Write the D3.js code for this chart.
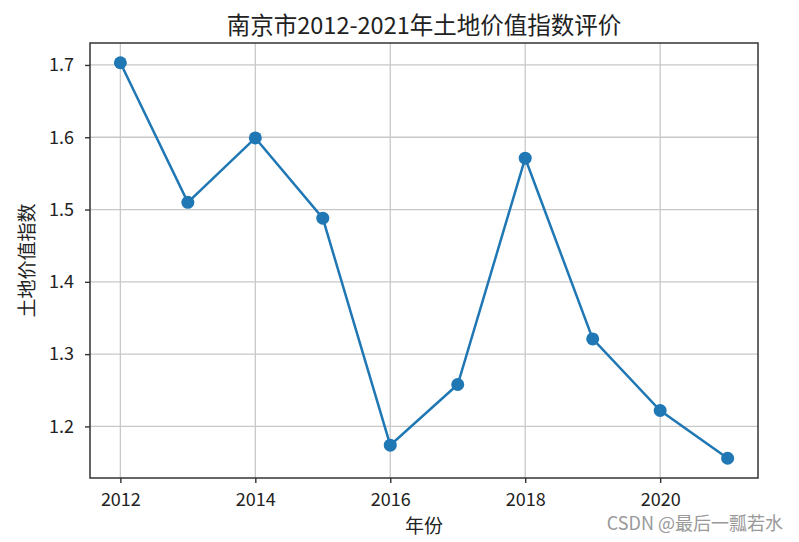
<!DOCTYPE html>
<html>
<head>
<meta charset="utf-8">
<script src="https://cdn.jsdelivr.net/npm/d3@7"></script>
<style>
  body { margin: 0; background: #fff; }
  text { font-family: "Noto Sans CJK SC", "DejaVu Sans", sans-serif; fill: #222; }
</style>
</head>
<body>
<div id="chart"></div>
<script>
// data
var years = [2012, 2013, 2014, 2015, 2016, 2017, 2018, 2019, 2020, 2021];
var values = [1.703, 1.510, 1.599, 1.488, 1.174, 1.258, 1.571, 1.321, 1.222, 1.156];
var xTicks = [2012, 2014, 2016, 2018, 2020];
var yTicks = [1.2, 1.3, 1.4, 1.5, 1.6, 1.7];

var outerWidth = 799, outerHeight = 542;
var margin = {top: 43, right: 41, bottom: 64, left: 90};
var width = outerWidth - margin.left - margin.right,
    height = outerHeight - margin.top - margin.bottom;

var svg = d3.select("#chart").append("svg")
    .attr("width", outerWidth)
    .attr("height", outerHeight);

var g = svg.append("g")
    .attr("transform", "translate(" + margin.left + "," + margin.top + ")");

// matplotlib style 5% margins
var xPad = (d3.max(years) - d3.min(years)) * 0.05;
var yPad = (d3.max(values) - d3.min(values)) * 0.05;

var xScale = d3.scaleLinear()
    .domain([d3.min(years) - xPad, d3.max(years) + xPad])
    .range([0, width]);
var yScale = d3.scaleLinear()
    .domain([d3.min(values) - yPad, d3.max(values) + yPad])
    .range([height, 0]);

// grid
g.selectAll("line.vgrid").data(xTicks).enter().append("line")
    .attr("class", "vgrid")
    .attr("x1", function (d) { return xScale(d); })
    .attr("x2", function (d) { return xScale(d); })
    .attr("y1", 0).attr("y2", height)
    .attr("stroke", "#c8c8c8").attr("stroke-width", 1.3);
g.selectAll("line.hgrid").data(yTicks).enter().append("line")
    .attr("class", "hgrid")
    .attr("y1", function (d) { return yScale(d); })
    .attr("y2", function (d) { return yScale(d); })
    .attr("x1", 0).attr("x2", width)
    .attr("stroke", "#c8c8c8").attr("stroke-width", 1.3);

// axes
var xAxis = d3.axisBottom(xScale).tickValues(xTicks).tickFormat(d3.format("d")).tickSize(5).tickPadding(10);
var yAxis = d3.axisLeft(yScale).tickValues(yTicks).tickFormat(d3.format(".1f")).tickSize(5).tickPadding(11);

var gx = g.append("g").attr("transform", "translate(0," + height + ")").call(xAxis);
var gy = g.append("g").call(yAxis);
[gx, gy].forEach(function (a) {
  a.select(".domain").remove();
  a.selectAll(".tick line").attr("stroke", "#333").attr("stroke-width", 1.4);
  a.selectAll(".tick text").style("font-size", "18px").attr("fill", "#222");
});

// frame
g.append("rect")
    .attr("x", 0).attr("y", 0)
    .attr("width", width).attr("height", height)
    .attr("fill", "none")
    .attr("stroke", "#333").attr("stroke-width", 1.5);

// line + markers
var line = d3.line()
    .x(function (d, i) { return xScale(years[i]); })
    .y(function (d) { return yScale(d); });

g.append("path")
    .datum(values)
    .attr("d", line)
    .attr("fill", "none")
    .attr("stroke", "#1f77b4")
    .attr("stroke-width", 2.5);

g.selectAll("circle").data(values).enter().append("circle")
    .attr("cx", function (d, i) { return xScale(years[i]); })
    .attr("cy", function (d) { return yScale(d); })
    .attr("r", 6.5)
    .attr("fill", "#1f77b4");

// titles
svg.append("text")
    .attr("x", margin.left + width / 2)
    .attr("y", 34)
    .attr("text-anchor", "middle")
    .style("font-size", "23.5px")
    .text("南京市2012-2021年土地价值指数评价");

svg.append("text")
    .attr("x", margin.left + width / 2)
    .attr("y", 533)
    .attr("text-anchor", "middle")
    .style("font-size", "19px")
    .text("年份");

svg.append("text")
    .attr("transform", "translate(34," + (margin.top + height / 2) + ") rotate(-90)")
    .attr("text-anchor", "middle")
    .style("font-size", "19px")
    .text("土地价值指数");

svg.append("text")
    .attr("x", 783)
    .attr("y", 530)
    .attr("text-anchor", "end")
    .style("font-size", "18px")
    .style("fill", "#999")
    .text("CSDN @最后一瓢若水");
</script>
</body>
</html>
